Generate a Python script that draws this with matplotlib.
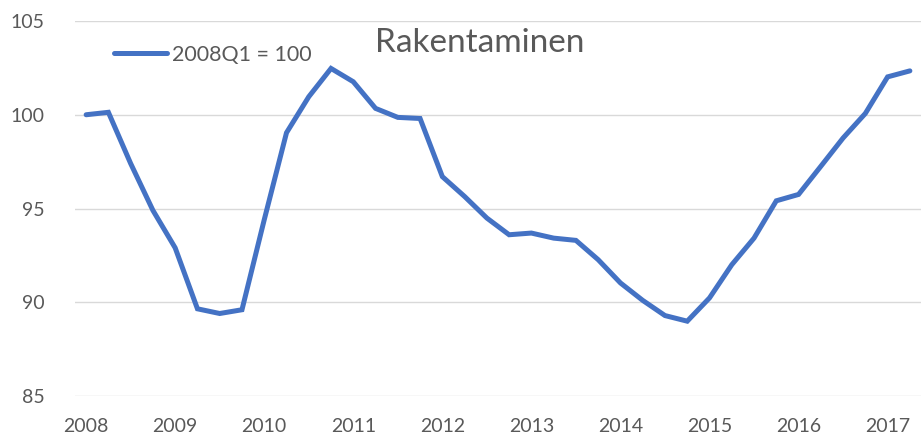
import matplotlib
matplotlib.use("Agg")
import matplotlib.pyplot as plt
import numpy as np

plt.rcParams['font.family'] = ['Lato', 'DejaVu Sans']

years = ['2008', '2009', '2010', '2011', '2012', '2013', '2014', '2015', '2016', '2017']
values = [100.0, 100.13, 97.4, 94.9, 92.9, 89.65, 89.4, 89.6, 94.4, 99.04,
          100.96, 102.47, 101.76, 100.34, 99.86, 99.8, 96.7, 95.64, 94.49, 93.6,
          93.69, 93.42, 93.3, 92.27, 91.03, 90.1, 89.29, 88.99, 90.23, 92.0,
          93.42, 95.41, 95.75, 97.25, 98.76, 100.07, 102.02, 102.34]
series_label = '2008Q1 = 100'
title = 'Rakentaminen'
yticks = [85, 90, 95, 100, 105]

W, H = 921, 438
fig = plt.figure(figsize=(W / 100, H / 100), dpi=100)
ax = fig.add_axes([75 / W, 1 - 396 / H, 1 - 75 / W, (396 - 21) / H])

x = np.arange(len(values))
line_color = '#4472C4'
text_color = '#595959'
ax.plot(x, values, color=line_color, lw=3.6, solid_capstyle='round',
        solid_joinstyle='miter', label=series_label, zorder=3)

ax.set_xlim(-0.5, len(values) - 0.5)
ax.set_ylim(85, 105)
ax.set_yticks(yticks)
ax.set_yticklabels([str(v) for v in yticks])
ax.set_xticks(np.arange(len(years)) * 4)
ax.set_xticklabels(years)
ax.grid(axis='y', color='#D9D9D9', lw=1.0, zorder=0)
ax.set_axisbelow(True)
for s in ax.spines.values():
    s.set_visible(False)
ax.tick_params(axis='both', length=0, labelsize=14, colors=text_color)
ax.tick_params(axis='y', pad=22)
ax.tick_params(axis='x', pad=16)

fig.text(479.5 / W, 1 - 42.5 / H, title, ha='center', va='center',
         fontsize=24, color=text_color)

leg = ax.legend(loc='center left', bbox_to_anchor=(114 / W, 1 - 55 / H),
                bbox_transform=fig.transFigure, frameon=False, fontsize=15.5,
                handlelength=2.45, handletextpad=0.25, borderpad=0,
                borderaxespad=0)
for t in leg.get_texts():
    t.set_color(text_color)

fig.savefig('out.png', dpi=100)
